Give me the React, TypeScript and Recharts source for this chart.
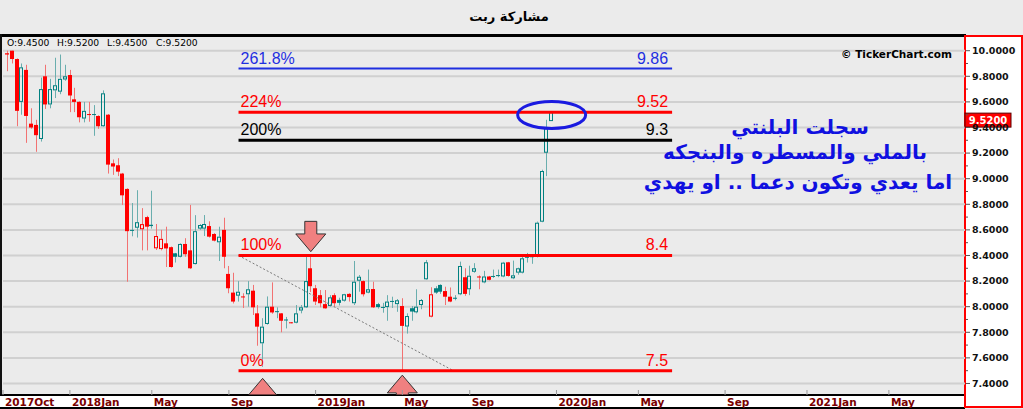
import React from "react";
import { ComposedChart, Bar, XAxis, YAxis, CartesianGrid, ReferenceLine, ReferenceDot } from "recharts";

// weekly candles, Oct 2017 -> Dec 2019
const opens = [
  9.98, 10.0, 9.935, 9.6, 9.85, 9.43, 9.42, 9.31, 9.8, 9.58, 9.69, 9.68, 9.775, 9.81, 9.62, 9.6, 9.47, 9.505, 9.505, 9.49,
  9.41, 9.5, 9.12, 9.105, 9.04, 8.92, 8.6, 8.617, 8.605, 8.7, 8.64, 8.456, 8.45, 8.495, 8.465, 8.417, 8.39, 8.49, 8.44, 8.333,
  8.61, 8.61, 8.63, 8.568, 8.503, 8.6, 8.256, 8.11, 8.086, 8.08, 8.097, 8.125, 7.948, 7.714, 7.865, 8.0, 7.965, 7.948, 7.9, 7.878,
  7.875, 7.97, 7.995, 8.3, 8.144, 8.09, 8.02, 8.005, 8.09, 8.053, 8.047, 8.1, 8.027, 8.203, 8.2, 8.11, 8.138, 8.02, 7.998, 7.997,
  8.045, 8.02, 8.005, 7.845, 7.988, 7.956, 8.013, 8.214, 7.922, 8.144, 8.17, 8.122, 8.078, 8.07, 8.097, 8.23, 8.136, 8.273, 8.236, 8.19,
  8.236, 8.24, 8.247, 8.236, 8.347, 8.222, 8.266, 8.266, 8.39, 8.394, 8.39, 8.664, 9.203, 9.45,
];
const highs = [
  10.0, 10.0, 9.94, 9.9, 9.89, 9.55, 9.46, 9.79, 9.89, 9.78, 9.945, 9.97, 9.89, 9.85, 9.71, 9.605, 9.6, 9.6, 9.575, 9.495,
  9.69, 9.505, 9.15, 9.16, 9.045, 8.925, 8.81, 8.91, 8.77, 8.71, 8.906, 8.646, 8.6, 8.625, 8.47, 8.42, 8.495, 8.535, 8.795, 8.715,
  8.645, 8.716, 8.667, 8.575, 8.625, 8.695, 8.318, 8.265, 8.2, 8.105, 8.2, 8.17, 8.013, 7.91, 8.08, 8.19, 7.995, 7.95, 7.92, 7.88,
  8.013, 8.013, 8.39, 8.39, 8.17, 8.13, 8.13, 8.09, 8.105, 8.07, 8.1, 8.105, 8.357, 8.247, 8.205, 8.29, 8.195, 8.03, 8.03, 8.09,
  8.078, 8.06, 8.066, 7.948, 8.005, 8.136, 8.06, 8.365, 8.152, 8.16, 8.175, 8.156, 8.15, 8.09, 8.352, 8.3, 8.32, 8.34, 8.245, 8.28,
  8.24, 8.29, 8.29, 8.35, 8.35, 8.36, 8.305, 8.39, 8.42, 8.41, 8.665, 9.07, 9.46, 9.52,
];
const lows = [
  9.84, 9.9, 9.41, 9.5, 9.28, 9.39, 9.21, 9.29, 9.545, 9.55, 9.63, 9.66, 9.765, 9.52, 9.52, 9.44, 9.44, 9.445, 9.335, 9.39,
  9.405, 9.04, 9.03, 9.02, 8.795, 8.195, 8.55, 8.54, 8.44, 8.44, 8.61, 8.443, 8.44, 8.31, 8.305, 8.345, 8.385, 8.39, 8.295, 8.33,
  8.6, 8.552, 8.54, 8.51, 8.357, 8.3, 8.105, 8.025, 8.04, 7.99, 8.0, 7.935, 7.695, 7.53, 7.86, 7.945, 7.91, 7.8, 7.83, 7.87,
  7.87, 7.948, 7.99, 8.115, 8.013, 7.995, 7.985, 8.0, 8.0, 8.01, 8.04, 8.04, 8.013, 8.117, 8.08, 8.105, 7.99, 7.985, 7.953, 7.89,
  7.99, 7.96, 7.5, 7.79, 7.89, 7.948, 7.98, 8.21, 7.917, 8.1, 8.1, 8.013, 8.035, 8.05, 8.09, 8.085, 8.09, 8.265, 8.136, 8.183,
  8.205, 8.225, 8.23, 8.23, 8.235, 8.215, 8.25, 8.26, 8.345, 8.335, 8.385, 8.66, 9.02, 9.45,
];
const closes = [
  9.97, 9.935, 9.53, 9.87, 9.49, 9.4, 9.34, 9.7, 9.58, 9.7, 9.73, 9.78, 9.8, 9.65, 9.6, 9.48, 9.53, 9.5, 9.5, 9.41,
  9.667, 9.11, 9.095, 9.055, 8.87, 8.59, 8.595, 8.66, 8.645, 8.625, 8.63, 8.552, 8.53, 8.455, 8.31, 8.39, 8.49, 8.41, 8.3, 8.59,
  8.638, 8.646, 8.547, 8.516, 8.547, 8.39, 8.144, 8.04, 8.117, 8.075, 8.136, 7.995, 7.844, 7.844, 8.0, 7.955, 7.958, 7.89, 7.892, 7.875,
  7.948, 7.995, 8.2, 8.16, 8.04, 8.027, 7.987, 8.073, 8.027, 8.03, 8.097, 8.075, 8.195, 8.234, 8.097, 8.136, 7.995, 7.997, 7.997, 8.04,
  8.04, 8.05, 7.85, 7.927, 7.962, 8.0, 8.052, 8.347, 8.097, 8.11, 8.117, 8.078, 8.04, 8.062, 8.318, 8.1, 8.242, 8.3, 8.228, 8.236,
  8.21, 8.236, 8.24, 8.344, 8.24, 8.245, 8.3, 8.378, 8.384, 8.39, 8.656, 9.06, 9.394, 9.52,
];

const monthTicks = [-0.89, 13, 30, 46, 64, 82, 96, 114, 131, 149, 166, 183];
const monthLabels = ["2017Oct", "2018Jan", "May", "Sep", "2019Jan", "May", "Sep", "2020Jan", "May", "Sep", "2021Jan", "May"];

const priceTicks = [
  7.4, 7.5, 7.6, 7.7, 7.8, 7.9, 8.0, 8.1, 8.2, 8.3, 8.4, 8.5, 8.6, 8.7, 8.8, 8.9, 9.0, 9.1, 9.2, 9.3, 9.4, 9.5, 9.6, 9.7, 9.8,
  9.9, 10.0,
];
const gridTicks = [7.4, 7.6, 7.8, 8.0, 8.2, 8.4, 8.6, 8.8, 9.0, 9.2, 9.4, 9.6, 9.8, 10.0];

// fibonacci projection levels
const fibNames = ["261.8%", "224%", "200%", "100%", "0%"];
const fibValues = [9.86, 9.52, 9.3, 8.4, 7.5];
const fibColors = ["#1f2fe0", "#ff0000", "#000000", "#ff0000", "#ff0000"];
const fibWidths = [2, 3, 3, 3, 3];
const fibFrom = 48;
const fibTo = 138;

const noteLines = ["سجلت البلنتي", "بالملي والمسطره والبنجكه", "اما يعدي وتكون دعما .. او يهدي"];
const noteCenters = [800, 795, 798];
const noteTops = [114, 139, 169];

const TEAL = "#008080";
const RED = "#ff0000";

const candles = closes.map((c, i) => {
  const prev = i === 0 ? opens[0] : closes[i - 1];
  return {
    i,
    open: opens[i],
    high: highs[i],
    low: lows[i],
    close: c,
    range: [lows[i], highs[i]],
    rising: c >= prev,
    hollow: c > opens[i],
  };
});
const last = candles[candles.length - 1];

const Candle = (props: any) => {
  const { x, y, width, height, payload } = props;
  if (!payload) return null;
  const { open, close, high, low, rising, hollow } = payload;
  const top = Math.min(y, y + height);
  const bottom = Math.max(y, y + height);
  const ppu = (bottom - top) / (high - low);
  const py = (v: number) => top + (high - v) * ppu;
  const left = Math.round(x + width / 2) - 2;
  const wx = left + 2.5;
  const color = rising ? TEAL : RED;
  const wick = rising ? "#6aaeae" : "#f27272";
  const bTop = py(Math.max(open, close));
  let bBot = py(Math.min(open, close));
  if (bBot - bTop < 1) bBot = bTop + 1;
  if (hollow) {
    return (
      <g>
        <line x1={wx} x2={wx} y1={top} y2={bTop} stroke={wick} />
        <line x1={wx} x2={wx} y1={bBot} y2={bottom} stroke={wick} />
        <rect x={left + 0.5} y={bTop + 0.5} width={3} height={Math.max(bBot - bTop - 1, 0.5)} fill="none" stroke={color} />
      </g>
    );
  }
  return (
    <g>
      <line x1={wx} x2={wx} y1={top} y2={bottom} stroke={wick} />
      <rect x={left} y={bTop} width={4} height={bBot - bTop} fill={color} />
    </g>
  );
};

const MonthTick = (props: any) => {
  const { x, y, payload } = props;
  const k = monthTicks.indexOf(payload.value);
  return (
    <g>
      <line x1={x} x2={x} y1={y - 5} y2={y} stroke="#9a9a9a" />
      <text x={x + 2} y={y + 7} dy="0.35em" fontFamily="DejaVu Sans" fontWeight="bold" fontSize={10.5} fill="#7a0000">
        {monthLabels[k]}
      </text>
    </g>
  );
};

const PriceTick = (props: any) => {
  const { x, y, payload } = props;
  const major = Math.round(payload.value * 10) % 2 === 0;
  return (
    <g>
      <line x1={x + 1} x2={x + (major ? 5 : 3)} y1={y} y2={y} stroke="#555" />
      {major && (
        <text x={x + 7} y={y} dy="0.35em" fontFamily="DejaVu Sans" fontWeight="bold" fontSize={9.5} fill="#111">
          {payload.value.toFixed(4)}
        </text>
      )}
    </g>
  );
};

const fibLabel = (k: number) => (lp: any) => {
  const vb = lp.viewBox || {};
  return (
    <g fontFamily="Liberation Sans" fontSize={16} fill={fibColors[k]}>
      <text x={vb.x + 2} y={vb.y - 5}>{fibNames[k]}</text>
      <text x={vb.x + vb.width - 4} y={vb.y - 5} textAnchor="end">{String(fibValues[k])}</text>
    </g>
  );
};

const arrowPoints = (cx: number, cy: number, dir: number) =>
  [
    [cx, cy], [cx - 15, cy + dir * 17.7], [cx - 6, cy + dir * 17.7], [cx - 6, cy + dir * 30.3],
    [cx + 6, cy + dir * 30.3], [cx + 6, cy + dir * 17.7], [cx + 15, cy + dir * 17.7],
  ].map((q) => q.join(",")).join(" ");

const downArrow = (p: any) => (
  <polygon points={arrowPoints(p.cx, p.cy, -1)} fill="#f08080" stroke="#333" strokeWidth={1} />
);

// up arrows sit on the bottom edge, so cut them at the x axis
const upArrow = (p: any) => {
  const id = `arrow-cut-${Math.round(p.cx)}`;
  return (
    <g>
      <defs>
        <clipPath id={id}>
          <rect x={0} y={0} width={1023} height={394.5} />
        </clipPath>
      </defs>
      <polygon points={arrowPoints(p.cx, p.cy, 1)} fill="#f08080" stroke="#333" strokeWidth={1} clipPath={`url(#${id})`} />
    </g>
  );
};

const ring = (p: any) => (
  <ellipse cx={p.cx} cy={p.cy} rx={34} ry={13.5} fill="none" stroke="#1a1ae0" strokeWidth={3} />
);

const priceTag = (p: any) => (
  <g>
    <rect x={p.cx} y={p.cy + 1} width={46} height={14} fill="#ff0000" stroke="#5a0000" />
    <text x={p.cx + 23} y={p.cy + 8} dy="0.35em" textAnchor="middle" fontFamily="DejaVu Sans" fontWeight="bold" fontSize={10} fill="#fff">
      {last.close.toFixed(4)}
    </text>
  </g>
);

const abs = (s: React.CSSProperties): React.CSSProperties => ({ position: "absolute", ...s });

export default function App() {
  return (
    <div style={abs({ left: 0, top: 0, width: 1023, height: 409, background: "#ebebeb", overflow: "hidden" })}>
      {/* frame and axis panels */}
      <div style={abs({ left: 0, top: 34, width: 966, height: 3, background: "#000" })} />
      <div style={abs({ left: 0, top: 34, width: 2, height: 375, background: "#111" })} />
      <div style={abs({ left: 0, top: 394, width: 965, height: 15, background: "#fff", borderTop: "2px solid #000", borderBottom: "2px solid #000", boxSizing: "border-box" })} />
      <div style={abs({ left: 964, top: 35, width: 59, height: 373, background: "#fff", border: "2px solid #ff0000", boxSizing: "border-box" })} />

      <div style={abs({ left: 0, top: 0 })}>
        <ComposedChart width={1023} height={409} data={candles} margin={{ top: 37, right: 0, bottom: 0, left: 3 }}>
          <CartesianGrid vertical={false} horizontalValues={gridTicks} stroke="#d0d0d0" strokeWidth={2} />
          <XAxis
            dataKey="i"
            type="number"
            domain={[-0.89, 198.8]}
            allowDataOverflow
            ticks={monthTicks}
            interval={0}
            height={14}
            tickSize={0}
            tickMargin={0}
            tickLine={false}
            axisLine={false}
            tick={<MonthTick />}
          />
          <YAxis
            orientation="right"
            type="number"
            domain={[7.31, 10.107]}
            allowDataOverflow
            ticks={priceTicks}
            interval={0}
            width={58}
            tickSize={0}
            tickMargin={0}
            tickLine={false}
            axisLine={false}
            tick={<PriceTick />}
          />
          <Bar dataKey="range" barSize={4} isAnimationActive={false} shape={(p: any) => <Candle {...p} />} />
          <ReferenceLine
            segment={[{ x: fibFrom, y: fibValues[3] }, { x: 92.6, y: fibValues[4] }]}
            stroke="#7a7a7a"
            strokeDasharray="2 2"
            strokeWidth={1}
            ifOverflow="visible"
          />
          {fibValues.map((v, k) => (
            <ReferenceLine
              key={fibNames[k]}
              segment={[{ x: fibFrom, y: v }, { x: fibTo, y: v }]}
              stroke={fibColors[k]}
              strokeWidth={fibWidths[k]}
              ifOverflow="visible"
              label={fibLabel(k)}
            />
          ))}
          <ReferenceDot x={63} y={8.43} r={1} shape={downArrow} ifOverflow="visible" />
          <ReferenceDot x={53} y={7.44} r={1} shape={upArrow} ifOverflow="visible" />
          <ReferenceDot x={82} y={7.465} r={1} shape={upArrow} ifOverflow="visible" />
          <ReferenceDot x={113} y={9.498} r={1} shape={ring} ifOverflow="visible" />
          <ReferenceDot x={198.8} y={last.close} r={1} shape={priceTag} ifOverflow="visible" />
        </ComposedChart>
      </div>

      <div style={abs({ left: 409, top: 9, width: 200, textAlign: "center", direction: "rtl", fontFamily: "DejaVu Sans", fontWeight: "bold", fontSize: 13, color: "#000" })}>
        مشاركة ربت
      </div>
      {[
        ["O", last.open, 7],
        ["H", last.high, 57],
        ["L", last.low, 107],
        ["C", last.close, 156],
      ].map(([k, v, left]) => (
        <div key={k as string} style={abs({ left: left as number, top: 37, fontFamily: "DejaVu Sans", fontSize: 9.2, color: "#000", whiteSpace: "nowrap" })}>
          {k}:{(v as number).toFixed(4)}
        </div>
      ))}
      <div style={abs({ right: 71, top: 48, fontFamily: "DejaVu Sans", fontWeight: "bold", fontSize: 10.5, color: "#000", whiteSpace: "nowrap" })}>
        © TickerChart.com
      </div>
      {noteLines.map((t, k) => (
        <div key={t} style={abs({ left: noteCenters[k] - 200, top: noteTops[k], width: 400, textAlign: "center", direction: "rtl", fontFamily: "DejaVu Sans", fontWeight: "bold", fontSize: 20, lineHeight: "26px", color: "#1010e0", whiteSpace: "nowrap" })}>
          {t}
        </div>
      ))}
    </div>
  );
}
